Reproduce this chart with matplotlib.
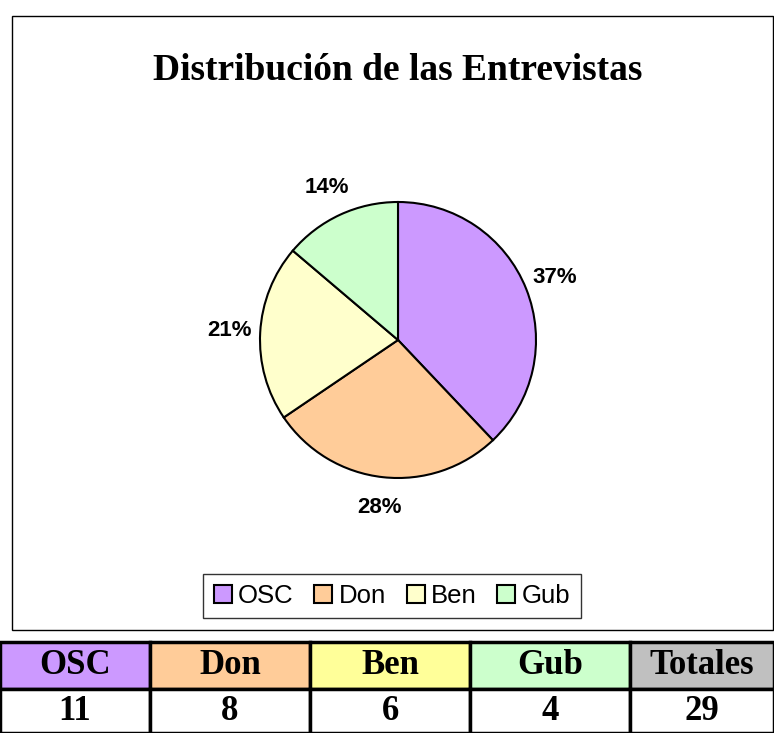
import matplotlib.pyplot as plt
from matplotlib.patches import Rectangle

# datos de las entrevistas
categorias = ['OSC', 'Don', 'Ben', 'Gub']
entrevistas = [11, 8, 6, 4]
etiquetas = ['37%', '28%', '21%', '14%']
colores_pie = ['#CC99FF', '#FFCC99', '#FFFFCC', '#CCFFCC']
encabezados = ['OSC', 'Don', 'Ben', 'Gub', 'Totales']
colores_tabla = ['#CC99FF', '#FFCC99', '#FFFF99', '#CCFFCC', '#C0C0C0']
valores_tabla = entrevistas + [sum(entrevistas)]

W, H = 774, 733
fig = plt.figure(figsize=(W / 100, H / 100), dpi=100)

def fx(x):
    return x / W

def fy(y):
    return 1 - y / H

# marco del grafico
fig.patches.append(Rectangle((fx(12), fy(630)), fx(773) - fx(12), fy(16) - fy(630),
                             transform=fig.transFigure, fill=False, ec='black', lw=1))

fig.text(fx(398), fy(70), 'Distribución de las Entrevistas', ha='center', va='center',
         family='Liberation Serif', weight='bold', fontsize=27)

# pastel
cx, cy, r = 398, 340, 138
ax = fig.add_axes([fx(cx - r), fy(cy + r), 2 * r / W, 2 * r / H])
wedges, textos = ax.pie(entrevistas, labels=etiquetas, colors=colores_pie, startangle=90,
                        counterclock=False, labeldistance=1.22,
                        wedgeprops=dict(edgecolor='black', linewidth=1.5),
                        textprops=dict(family='Liberation Sans', weight='bold', fontsize=16))
for t in textos:
    t.set_ha('center')
    t.set_va('center')
ax.set_xlim(-1, 1)
ax.set_ylim(-1, 1)
ax.set_aspect('equal')

leg = fig.legend(wedges, categorias, loc='center', bbox_to_anchor=(fx(392), fy(596)),
                 ncol=4, frameon=True, fancybox=False, edgecolor='black',
                 prop=dict(family='Liberation Sans', size=18.5),
                 handlelength=0.7, handleheight=0.7, handletextpad=0.25, columnspacing=0.8,
                 borderpad=0.4, borderaxespad=0)
leg.get_frame().set_linewidth(1)
for h in leg.legend_handles:
    h.set_linewidth(1.5)

# tabla
tax = fig.add_axes([0, 0, 1, fy(642)])
tax.axis('off')
anchos = [150, 160, 160, 160, 144]
tabla = tax.table(cellText=[encabezados, valores_tabla],
                  cellColours=[colores_tabla, ['white'] * 5],
                  colWidths=[a / sum(anchos) for a in anchos],
                  cellLoc='center', bbox=[0, 0, 1, 1])
tabla.auto_set_font_size(False)
for (fila, col), celda in tabla.get_celld().items():
    celda.set_linewidth(2.5)
    celda.set_edgecolor('black')
    celda.get_text().set_fontfamily('Liberation Serif')
    celda.get_text().set_fontweight('bold')
    celda.get_text().set_fontsize(25)
    celda.set_height(0.52 if fila == 0 else 0.48)

fig.savefig('out.png', dpi=100)
